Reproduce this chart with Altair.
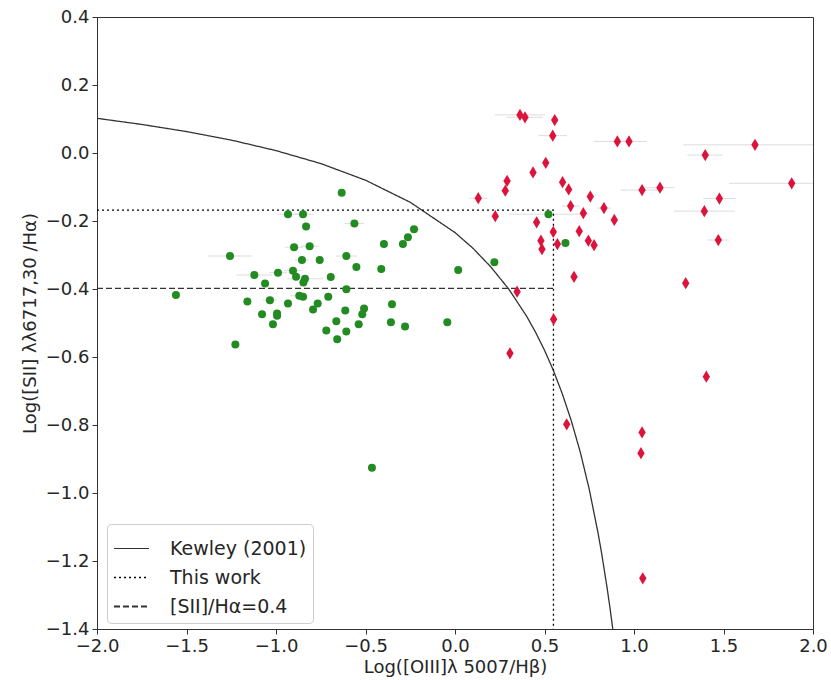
import altair as alt
import pandas as pd

# ---- green (star-forming) points ----
green_x = [-0.633, -0.933, -0.849, -0.832, -0.562, -0.229, -0.263, -0.291, -0.397, -1.257,
           -0.899, -0.812, -0.855, -0.756, -0.607, -0.551, -0.412, 0.018, -1.121, -0.989,
           -0.905, -0.888, -0.838, -0.847, -0.694, -1.061, -0.607, -1.160, -1.034, -0.933,
           -0.870, -0.849, -0.708, -0.767, -0.793, -1.078, -0.994, -0.994, -1.017, -0.613,
           -0.508, -0.518, -0.352, -0.663, -0.538, -0.358, -0.279, -0.043, -0.719, -0.607,
           -0.658, -1.227, -1.559, -0.464, 0.522, 0.617, 0.220]
green_y = [-0.117, -0.180, -0.180, -0.216, -0.207, -0.224, -0.248, -0.268, -0.268, -0.303,
           -0.277, -0.274, -0.315, -0.315, -0.303, -0.335, -0.341, -0.344, -0.359, -0.352,
           -0.346, -0.364, -0.370, -0.381, -0.365, -0.384, -0.401, -0.437, -0.433, -0.443,
           -0.420, -0.423, -0.423, -0.443, -0.460, -0.474, -0.472, -0.479, -0.504, -0.463,
           -0.457, -0.474, -0.445, -0.495, -0.504, -0.498, -0.510, -0.498, -0.522, -0.525,
           -0.548, -0.563, -0.418, -0.926, -0.180, -0.265, -0.321]
green_err = [0.0, 0.06, 0.06, 0.0, 0.055, 0.03, 0.0, 0.0, 0.0, 0.125,
             0.05, 0.05, 0.04, 0.0, 0.06, 0.0, 0.0, 0.0, 0.1, 0.05,
             0.05, 0.0, 0.1, 0.0, 0.0, 0.0, 0.0, 0.0, 0.04, 0.0,
             0.05, 0.0, 0.0, 0.0, 0.0, 0.0, 0.0, 0.0, 0.0, 0.0,
             0.0, 0.0, 0.0, 0.0, 0.0, 0.0, 0.0, 0.0, 0.0, 0.0,
             0.0, 0.0, 0.0, 0.0, 0.22, 0.0, 0.0]

# ---- red (AGN) points ----
red_x = [0.363, 0.391, 0.557, 0.546, 0.907, 0.972, 0.507, 0.436, 0.291, 0.281,
         0.601, 0.635, 1.045, 0.130, 0.756, 0.646, 0.832, 0.225, 0.717, 0.890,
         0.456, 0.549, 0.694, 0.480, 0.572, 0.745, 0.777, 0.486, 0.665, 0.347,
         1.676, 1.398, 1.881, 1.145, 1.477, 1.393, 1.471, 1.289, 0.551, 0.307,
         1.404, 0.624, 1.045, 1.039, 1.049]
red_y = [0.112, 0.105, 0.097, 0.051, 0.034, 0.034, -0.029, -0.057, -0.082, -0.111,
         -0.086, -0.107, -0.109, -0.133, -0.128, -0.156, -0.162, -0.186, -0.177, -0.197,
         -0.204, -0.232, -0.230, -0.258, -0.268, -0.258, -0.271, -0.283, -0.364, -0.408,
         0.024, -0.006, -0.089, -0.102, -0.134, -0.171, -0.256, -0.383, -0.489, -0.589,
         -0.658, -0.798, -0.822, -0.883, -1.251]
red_err = [0.14, 0.10, 0.0, 0.08, 0.13, 0.10, 0.0, 0.0, 0.03, 0.03,
           0.0, 0.0, 0.12, 0.05, 0.0, 0.05, 0.04, 0.0, 0.0, 0.0,
           0.0, 0.0, 0.0, 0.0, 0.0, 0.0, 0.0, 0.0, 0.0, 0.0,
           0.40, 0.10, 0.35, 0.08, 0.09, 0.17, 0.06, 0.0, 0.0, 0.0,
           0.0, 0.0, 0.0, 0.0, 0.0]

# ---- Kewley (2001) curve ----
kew_x = [-2.0, -1.75, -1.5, -1.25, -1.0, -0.75, -0.5, -0.25, 0.0, 0.1, 0.2, 0.3, 0.4,
         0.45, 0.5, 0.55, 0.6, 0.65, 0.7, 0.75, 0.8, 0.82, 0.85, 0.865, 0.88, 0.9]
kew_y = [0.102, 0.084, 0.063, 0.038, 0.007, -0.031, -0.080, -0.145, -0.234, -0.280,
         -0.335, -0.400, -0.480, -0.527, -0.580, -0.640, -0.709, -0.788, -0.880, -0.989,
         -1.120, -1.180, -1.280, -1.335, -1.394, -1.480]

# ---- demarcation lines ----
this_x = [-2.0, 0.55, 0.55]
this_y = [-0.168, -0.168, -1.4]
sii_x = [-2.0, 0.55]
sii_y = [-0.398, -0.398]

names = ["Kewley (2001)", "This work", "[SII]/H\u03b1=0.4"]

rows = []
for i, (a, b) in enumerate(zip(kew_x, kew_y)):
    rows.append({"x": a, "y": b, "s": names[0], "o": i})
for i, (a, b) in enumerate(zip(this_x, this_y)):
    rows.append({"x": a, "y": b, "s": names[1], "o": i})
for i, (a, b) in enumerate(zip(sii_x, sii_y)):
    rows.append({"x": a, "y": b, "s": names[2], "o": i})
lines = pd.DataFrame(rows)

green = pd.DataFrame({"x": green_x, "y": green_y, "e": green_err})
red = pd.DataFrame({"x": red_x, "y": red_y, "e": red_err})
errs = pd.concat([green, red])
errs = errs[errs["e"] > 0].copy()
errs["lo"] = errs["x"] - errs["e"]
errs["hi"] = errs["x"] + errs["e"]

xs = alt.Scale(domain=[-2, 2], nice=False, zero=False)
ys = alt.Scale(domain=[-1.4, 0.4], nice=False, zero=False)

xax = alt.Axis(title="Log([OIII]\u03bb 5007/H\u03b2)", values=[-2, -1.5, -1, -0.5, 0, 0.5, 1, 1.5, 2],
               format=".1f", grid=False, labelFlush=False)
yax = alt.Axis(title="Log([SII] \u03bb\u03bb6717,30 /H\u03b1)",
               values=[-1.4, -1.2, -1.0, -0.8, -0.6, -0.4, -0.2, 0.0, 0.2, 0.4],
               format=".1f", grid=False, labelFlush=False)

err_layer = alt.Chart(errs).mark_rule(color="#dcdcdc", strokeWidth=1, clip=True).encode(
    x=alt.X("lo:Q", scale=xs, axis=xax), x2="hi:Q", y=alt.Y("y:Q", scale=ys, axis=yax)
)

line_layer = alt.Chart(lines).mark_line(clip=True, strokeWidth=1.3).encode(
    x=alt.X("x:Q", scale=xs, axis=xax),
    y=alt.Y("y:Q", scale=ys, axis=yax),
    order="o:Q",
    color=alt.Color("s:N", scale=alt.Scale(domain=names, range=["#333333", "#000000", "#333333"]),
                    legend=alt.Legend(title=None)),
    strokeDash=alt.StrokeDash("s:N", scale=alt.Scale(domain=names, range=[[1, 0], [2, 3], [6, 3]]),
                              legend=alt.Legend(title=None)),
    strokeWidth=alt.StrokeWidth("s:N", scale=alt.Scale(domain=names, range=[1.2, 2.0, 1.5]), legend=None),
)

green_layer = alt.Chart(green).mark_circle(size=64, color="#228B22", opacity=1).encode(
    x=alt.X("x:Q", scale=xs, axis=xax), y=alt.Y("y:Q", scale=ys, axis=yax)
)

red_layer = alt.Chart(red).mark_point(
    shape="M0,-1L0.6,0L0,1L-0.6,0Z", size=150, filled=True, color="#DC143C", opacity=1
).encode(
    x=alt.X("x:Q", scale=xs, axis=xax), y=alt.Y("y:Q", scale=ys, axis=yax)
)

chart = alt.layer(err_layer, line_layer, green_layer, red_layer).properties(
    width=716, height=612,
    autosize=alt.AutoSizeParams(type="none"),
    padding={"left": 97, "top": 17, "right": 18, "bottom": 51},
).configure_view(
    stroke="#333333", strokeWidth=1
).configure_axis(
    labelFont="DejaVu Sans", labelFontSize=18, labelColor="#262626",
    titleFont="DejaVu Sans", titleFontSize=18, titleFontWeight="normal", titleColor="#262626",
    domainColor="#333333", tickColor="#333333", tickSize=5, labelPadding=3,
).configure_axisX(titlePadding=3).configure_axisY(titlePadding=6).configure_legend(
    orient="none", legendX=10, legendY=507,
    labelFont="DejaVu Sans", labelFontSize=19, labelColor="#262626",
    symbolType="stroke", symbolSize=1225, symbolStrokeWidth=1.5,
    strokeColor="#cccccc", fillColor="#ffffff", cornerRadius=4, padding=6,
    rowPadding=-11, labelOffset=20,
)

chart.save("out.html", embed_options={"renderer": "svg", "actions": False})
